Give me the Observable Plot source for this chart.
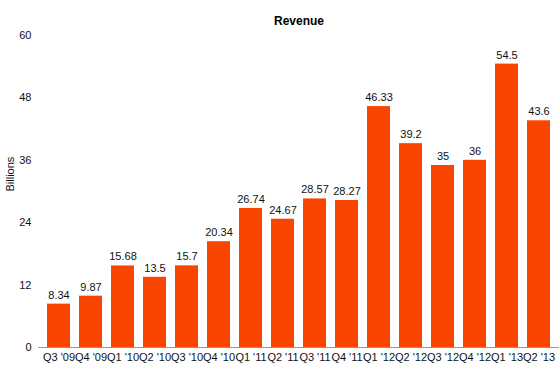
<!DOCTYPE html>
<html>
<head>
<meta charset="utf-8">
<script src="https://cdn.jsdelivr.net/npm/d3@7"></script>
<script src="https://cdn.jsdelivr.net/npm/@observablehq/plot@0.6"></script>
<style>
  html, body { margin: 0; padding: 0; background: #fff; }
  svg { font-family: "Liberation Sans", Arial, sans-serif; }
</style>
</head>
<body>
<div id="chart"></div>
<script>
const quarters = ["Q3 '09","Q4 '09","Q1 '10","Q2 '10","Q3 '10","Q4 '10","Q1 '11","Q2 '11","Q3 '11","Q4 '11","Q1 '12","Q2 '12","Q3 '12","Q4 '12","Q1 '13","Q2 '13"];
const revenue = [8.34, 9.87, 15.68, 13.5, 15.7, 20.34, 26.74, 24.67, 28.57, 28.27, 46.33, 39.2, 35, 36, 54.5, 43.6];
const yTicks = [0, 12, 24, 36, 48, 60];
const title = "Revenue";
const yLabel = "Billions";

const data = quarters.map((q, i) => ({quarter: q, value: revenue[i]}));

const chart = Plot.plot({
  width: 560,
  height: 372,
  marginTop: 35,
  marginBottom: 25,
  marginLeft: 38,
  marginRight: 1,
  style: {fontFamily: "'Liberation Sans', Arial, sans-serif", fontSize: "11px", color: "#111", background: "#fff"},
  x: {domain: quarters, padding: 0.28, label: null, tickSize: 0, tickPadding: 6},
  y: {domain: [0, 60], ticks: yTicks, label: null, tickSize: 0, tickPadding: 7},
  marks: [
    Plot.barY(data, {x: "quarter", y: "value", fill: "#f84600"}),
    Plot.ruleY([0], {stroke: "#999", strokeWidth: 1}),
    Plot.text(data, {x: "quarter", y: "value", text: d => String(d.value), dy: -9, fontSize: 11, fill: "#111"}),
    Plot.text([title], {frameAnchor: "top", dy: -19, fontWeight: "bold", fontSize: 12, fill: "#000"}),
    Plot.text([yLabel], {frameAnchor: "left", dx: -28, rotate: -90, fontSize: 11, fill: "#111"})
  ]
});
document.getElementById("chart").appendChild(chart);
</script>
</body>
</html>
